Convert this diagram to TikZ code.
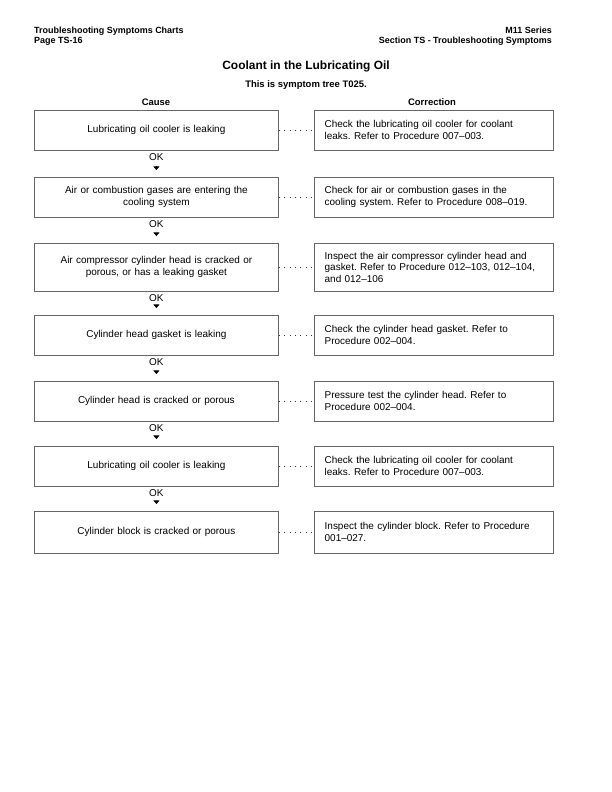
\documentclass[tikz,border=0pt]{standalone}
\usepackage{fontspec}
\setmainfont{Liberation Sans}
\usepackage{xcolor}
\usetikzlibrary{arrows.meta,positioning,calc}
\frenchspacing

\begin{document}
\begin{tikzpicture}[x=1bp, y=-1bp,
  cause/.style={draw=black!60, line width=0.8pt, align=center, minimum width=244bp, text width=226bp, minimum height=40bp, inner sep=0pt, font=\fontsize{10}{12}\selectfont},
  fix/.style={draw=black!60, line width=0.8pt, align=left, minimum width=239bp, text width=218bp, minimum height=40bp, inner sep=0pt, font=\fontsize{10}{12}\selectfont},
  oklabel/.style={inner sep=0pt, font=\fontsize{10}{12}\selectfont},
  dots/.style={black!80, line width=0.8pt, dash pattern=on 0.8pt off 4.6pt},
  okarrow/.style={-{Triangle[width=6bp, length=3.5bp]}, line width=0.6pt, shorten <=5.5bp, shorten >=7bp},
  head/.style={inner sep=0pt, font=\fontsize{9}{10}\selectfont\bfseries}
]
\useasboundingbox (0,0) rectangle (612,792);

% page header
\node[head, anchor=north west, align=left] (pagehead) at (34,27) {Troubleshooting Symptoms Charts\\Page TS-16};
\node[head, anchor=north east, align=right] (sectionhead) at (552,27) {M11 Series\\Section TS - Troubleshooting Symptoms};

% titles
\node[inner sep=0pt, font=\fontsize{12}{14}\selectfont\bfseries] (title) at (306,66) {Coolant in the Lubricating Oil};
\node[inner sep=0pt, font=\fontsize{9.5}{12}\selectfont\bfseries] (tree) at (306,85) {This is symptom tree T025.};
\node[inner sep=0pt, font=\fontsize{9.5}{12}\selectfont\bfseries] (causehead) at (156,102) {Cause};
\node[inner sep=0pt, font=\fontsize{9.5}{12}\selectfont\bfseries] (fixhead) at (432,102) {Correction};

% cause column
\node[cause, anchor=north west] (cause1) at (34,110) {Lubricating oil cooler is leaking};
\node[cause, below=26.2bp of cause1] (cause2) {Air or combustion gases are entering the\\cooling system};
\node[cause, below=25.2bp of cause2, minimum height=48bp] (cause3) {Air compressor cylinder head is cracked or\\porous, or has a leaking gasket};
\node[cause, below=23.2bp of cause3] (cause4) {Cylinder head gasket is leaking};
\node[cause, below=25.2bp of cause4] (cause5) {Cylinder head is cracked or porous};
\node[cause, below=24.2bp of cause5] (cause6) {Lubricating oil cooler is leaking};
\node[cause, below=24.2bp of cause6, minimum height=42bp] (cause7) {Cylinder block is cracked or porous};

% correction column
\node[fix, right=35bp of cause1] (fix1) {Check the lubricating oil cooler for coolant\\leaks. Refer to Procedure 007--003.};
\node[fix, right=35bp of cause2] (fix2) {Check for air or combustion gases in the\\cooling system. Refer to Procedure 008--019.};
\node[fix, right=35bp of cause3, minimum height=48bp] (fix3) {Inspect the air compressor cylinder head and\\gasket. Refer to Procedure 012--103, 012--104,\\and 012--106};
\node[fix, right=35bp of cause4] (fix4) {Check the cylinder head gasket. Refer to\\Procedure 002--004.};
\node[fix, right=35bp of cause5] (fix5) {Pressure test the cylinder head. Refer to\\Procedure 002--004.};
\node[fix, right=35bp of cause6] (fix6) {Check the lubricating oil cooler for coolant\\leaks. Refer to Procedure 007--003.};
\node[fix, right=35bp of cause7, minimum height=42bp] (fix7) {Inspect the cylinder block. Refer to Procedure\\001--027.};

% OK labels
\node[oklabel, below=2.5bp of cause1] (ok1) {OK};
\node[oklabel, below=2.5bp of cause2] (ok2) {OK};
\node[oklabel, below=2.5bp of cause3] (ok3) {OK};
\node[oklabel, below=2.5bp of cause4] (ok4) {OK};
\node[oklabel, below=2.5bp of cause5] (ok5) {OK};
\node[oklabel, below=2.5bp of cause6] (ok6) {OK};

% dotted leaders
\draw[dots] (cause1) -- (fix1);
\draw[dots] (cause2) -- (fix2);
\draw[dots] (cause3) -- (fix3);
\draw[dots] (cause4) -- (fix4);
\draw[dots] (cause5) -- (fix5);
\draw[dots] (cause6) -- (fix6);
\draw[dots] (cause7) -- (fix7);

% arrows to the next cause
\draw[okarrow] (ok1) -- (cause2);
\draw[okarrow] (ok2) -- (cause3);
\draw[okarrow] (ok3) -- (cause4);
\draw[okarrow] (ok4) -- (cause5);
\draw[okarrow] (ok5) -- (cause6);
\draw[okarrow] (ok6) -- (cause7);
\end{tikzpicture}
\end{document}
